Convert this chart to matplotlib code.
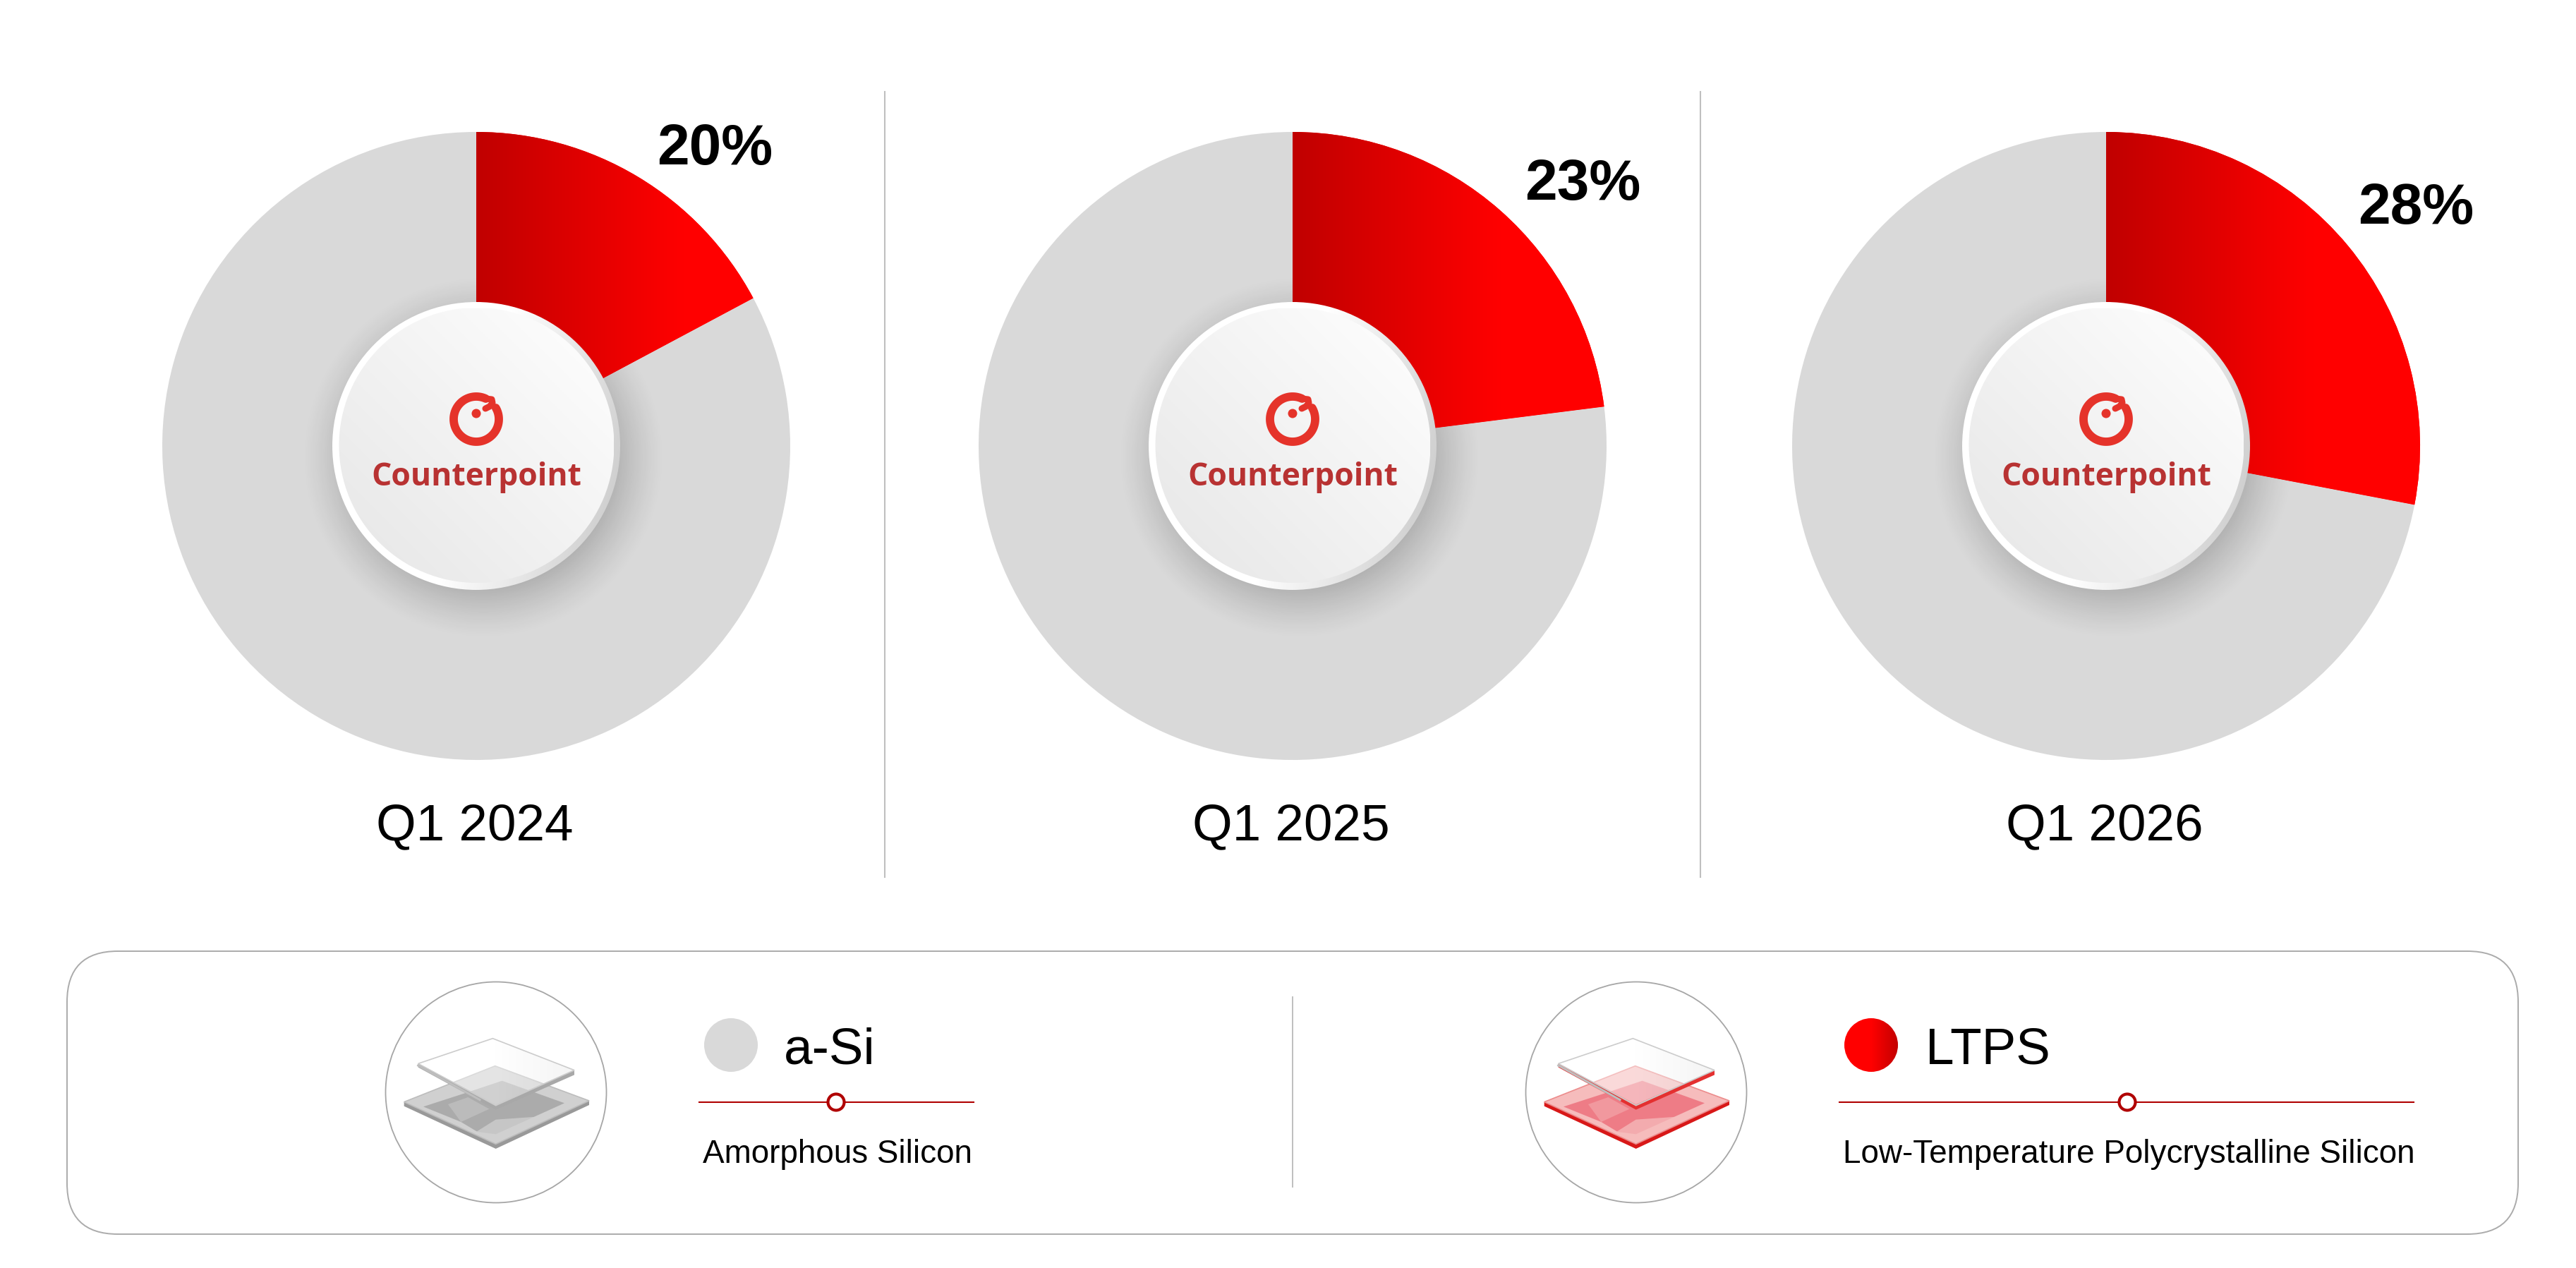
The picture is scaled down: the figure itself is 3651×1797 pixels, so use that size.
import numpy as np
import matplotlib
matplotlib.use('Agg')
import matplotlib.pyplot as plt
from matplotlib.patches import Circle, Polygon, FancyBboxPatch
from matplotlib.colors import LinearSegmentedColormap

W, H = 3651, 1797

quarters = ['Q1 2024', 'Q1 2025', 'Q1 2026']
# share the wedge is actually drawn at (first one is drawn smaller than its label)
wedge_share = [17.2, 23.0, 28.0]
share_labels = ['20%', '23%', '28%']
legend_names = ['a-Si', 'LTPS']
legend_descs = ['Amorphous Silicon', 'Low-Temperature Polycrystalline Silicon']

pie_x = [675, 1832, 2985]
pie_y = 632
pie_r = 445
label_pos = [(931, 233), (2161, 283), (3342, 317)]

plt.rcParams['font.family'] = ['Liberation Sans', 'DejaVu Sans']
red_cmap = LinearSegmentedColormap.from_list('r', [(0, '#C00000'), (0.66, '#FF0000'), (1, '#FF0000')])

fig = plt.figure(figsize=(W / 100, H / 100), dpi=100, facecolor='white')

# the three donuts, hub shadow sits between the grey slice and the red gradient
for i in range(3):
    px = fig.add_axes([(pie_x[i] - pie_r) / W, (H - pie_y - pie_r) / H, 2 * pie_r / W, 2 * pie_r / H])
    wedges, _ = px.pie([wedge_share[i], 100 - wedge_share[i]], colors=['#FF0000', '#D9D9D9'],
                       startangle=90, counterclock=False, radius=1)
    px.set_xlim(-1, 1)
    px.set_ylim(-1, 1)
    px.set_autoscale_on(False)
    yy, xx = np.mgrid[-1:1:400j, -1:1:400j]
    d = np.hypot(xx - 10 / pie_r, yy + 16 / pie_r) * pie_r
    rgba = np.zeros(d.shape + (4,))
    rgba[..., 3] = 0.18 * np.clip((258 - d) / 72, 0, 1) ** 1.3
    px.imshow(rgba, extent=(-1, 1, -1, 1), origin='lower', aspect='auto', zorder=2)
    im = px.imshow(np.linspace(0, 1, 256).reshape(1, -1), extent=(0, 1, -1, 1), cmap=red_cmap,
                   aspect='auto', zorder=3, vmin=0, vmax=1)
    im.set_clip_path(wedges[0])
    px.axis('off')

ax = fig.add_axes([0, 0, 1, 1], facecolor='none')
ax.set_xlim(0, W)
ax.set_ylim(H, 0)
ax.set_autoscale_on(False)
ax.axis('off')


def gradient_fill(patch, box, colors, angle=0, zorder=3, alpha=1.0):
    # linear gradient inside box, clipped to the patch
    x0, x1, y0, y1 = box
    u, v = np.meshgrid(np.linspace(0, 1, 128), np.linspace(0, 1, 128))
    a = np.deg2rad(angle)
    t = u * np.cos(a) + v * np.sin(a)
    t = (t - t.min()) / (t.max() - t.min())
    cmap = LinearSegmentedColormap.from_list('g', colors)
    im = ax.imshow(t, extent=(x0, x1, y1, y0), cmap=cmap, aspect='auto', zorder=zorder,
                   interpolation='bilinear', origin='upper', alpha=alpha)
    patch.set_transform(ax.transData)
    im.set_clip_path(patch)
    return im


def draw_logo(cx, cy):
    c = '#E5332A'
    lx, ly = cx, cy - 38
    th = np.deg2rad(np.linspace(30, -295, 120))
    xs = list(lx + 32 * np.cos(th))
    ys = list(ly - 32 * np.sin(th))
    ax.plot(xs, ys, color=c, lw=8.5, solid_capstyle='round', zorder=7)
    # little hook at the top of the ring
    ax.plot([lx + 14, lx + 22, lx + 23, lx + 19, lx + 13], [ly - 29, ly - 28, ly - 23, ly - 18, ly - 15],
            color=c, lw=6.5, solid_capstyle='round', solid_joinstyle='round', zorder=7)
    ax.add_patch(Circle((lx, ly - 8), 6.5, fc=c, ec='none', zorder=7))
    ax.text(cx, cy + 56, 'Counterpoint', family=['Open Sans', 'DejaVu Sans'], weight='bold',
            fontsize=32, color='#B83232', ha='center', va='baseline', zorder=7)


def draw_hub(cx, cy):
    R = 204
    gradient_fill(Circle((cx, cy), R), (cx - R, cx + R, cy - R, cy + R),
                  ['#FFFFFF', '#FFFFFF', '#C6C6C6'], 15, zorder=5)
    r = 195
    gradient_fill(Circle((cx + 0.5, cy - 1), r), (cx - r, cx + r, cy - r, cy + r),
                  ['#E6E6E6', '#FFFFFF'], -45, zorder=6)
    draw_logo(cx, cy)


for i in range(3):
    draw_hub(pie_x[i], pie_y)
    ax.text(pie_x[i] - 2, 1190, quarters[i], fontsize=52.5, color='black', ha='center', va='baseline')
    ax.text(label_pos[i][0], label_pos[i][1], share_labels[i], fontsize=59, weight='bold',
            color='black', ha='left', va='baseline')

# dividers
for x in [1254, 2410]:
    ax.plot([x, x], [130, 1243], color='#BFBFBF', lw=1.5, zorder=2)

# legend box
ax.add_patch(FancyBboxPatch((95, 1348), 3474, 401, boxstyle='round,pad=0,rounding_size=72',
                            fc='white', ec='#ABABAB', lw=1.4, zorder=1))
ax.plot([1832, 1832], [1413, 1682], color='#BFBFBF', lw=1.4, zorder=2)


def plate(ox, oy, pts):
    return [(ox + (x - 549) / 3, oy + (y - 444) / 3) for x, y in pts]


def draw_icon(ox, oy, edge, edge2, dark, light, rim):
    box = (ox - 140, ox + 140, oy - 90, oy + 90)
    ax.add_patch(Circle((ox, oy), 156.5, fc='white', ec='#A6A6A6', lw=1.3, zorder=3))
    # lower plate
    ax.add_patch(Polygon(plate(ox, oy, [(158, 485), (158, 503), (548, 684), (945, 498), (945, 480), (548, 640)]),
                         fc=edge, ec='none', zorder=4))
    ax.add_patch(Polygon(plate(ox, oy, [(158, 485), (545, 332), (945, 480), (548, 664)]),
                         fc=light, ec=rim, lw=1.2, zorder=4))
    ax.add_patch(Polygon(plate(ox, oy, [(240, 505), (410, 450), (575, 395), (840, 490), (548, 622), (470, 612), (400, 570)]),
                         fc=dark, ec='none', zorder=4))
    ax.add_patch(Polygon(plate(ox, oy, [(465, 612), (548, 560), (720, 548), (790, 528), (548, 645)]),
                         fc=light, ec='none', alpha=0.75, zorder=4))
    ax.add_patch(Polygon(plate(ox, oy, [(345, 495), (430, 465), (520, 515), (400, 570)]),
                         fc=light, ec='none', alpha=0.45, zorder=4))
    # upper glass plate
    ax.add_patch(Polygon(plate(ox, oy, [(218, 322), (218, 338), (548, 518), (882, 370), (882, 350), (548, 495)]),
                         fc=edge2, ec='none', zorder=5))
    ax.plot(*zip(*plate(ox, oy, [(218, 330), (480, 476)])), color='#BEBEBE', lw=2.2, zorder=5)
    top = Polygon(plate(ox, oy, [(218, 322), (535, 215), (882, 350), (548, 500)]))
    gradient_fill(top, box, ['white', 'white', '#E2E2E2'], 0, zorder=5, alpha=0.45)
    ax.add_patch(Polygon(plate(ox, oy, [(218, 322), (535, 215), (882, 350), (548, 500)]),
                         fc='none', ec='#CCCCCC', lw=1.2, zorder=5))


draw_icon(703, 1548, '#999999', '#A8A8A8', '#ABABAB', '#D0D0D0', '#BDBDBD')
draw_icon(2319, 1548, '#D81818', '#E43030', '#EE7C86', '#F6BCBC', '#EC8C8C')

# legend entries
ax.add_patch(Circle((1036, 1481), 38, fc='#D9D9D9', ec='none', zorder=3))
gradient_fill(Circle((2652, 1481), 38), (2614, 2690, 1443, 1519), ['#FF0000', '#FF0000', '#C40000'], 0, zorder=3)

ax.text(1111, 1507, legend_names[0], fontsize=52.5, color='black', va='baseline', ha='left')
ax.text(2729, 1507, legend_names[1], fontsize=52.5, color='black', va='baseline', ha='left')

line_red = '#B00000'
for x0, x1, xm in [(991, 1380, 1185), (2607, 3421, 3015)]:
    ax.plot([x0, x1], [1562, 1562], color=line_red, lw=1.5, zorder=3)
    ax.add_patch(Circle((xm, 1562), 11.5, fc='white', ec=line_red, lw=3, zorder=4))

ax.text(996, 1648, legend_descs[0], fontsize=33, color='black', va='baseline', ha='left')
ax.text(2612, 1648, legend_descs[1], fontsize=33, color='black', va='baseline', ha='left')

fig.savefig('out.png', dpi=100, facecolor='white')
